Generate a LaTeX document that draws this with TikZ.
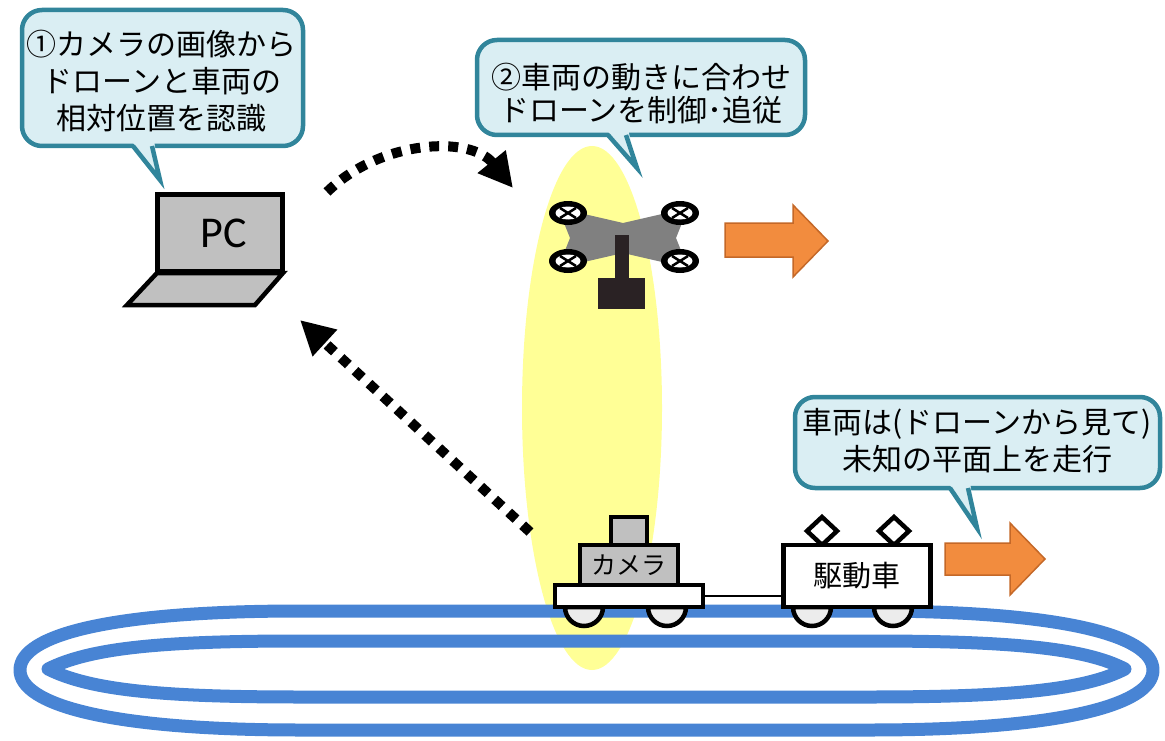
\documentclass[tikz,border=0pt]{standalone}
\usepackage{fontspec}
\newfontfamily\jpfont{Noto Sans CJK JP}
\newfontfamily\pcfont{Carlito}
\usetikzlibrary{arrows.meta}

\definecolor{balloonfill}{RGB}{218,238,243}
\definecolor{balloonline}{RGB}{49,133,155}
\definecolor{orangefill}{RGB}{242,140,62}
\definecolor{orangeline}{RGB}{196,104,40}
\definecolor{trackblue}{RGB}{72,132,212}
\definecolor{zoneyellow}{RGB}{255,255,150}
\definecolor{screengray}{RGB}{192,192,192}
\definecolor{framegray}{RGB}{128,128,128}
\definecolor{gimbal}{RGB}{42,34,36}
\definecolor{wheelgray}{RGB}{236,236,236}

\begin{document}
\begin{tikzpicture}[x=1pt,y=-1pt,
  balloon/.style={draw=balloonline, fill=balloonfill, line width=4.5pt, rounded corners=20pt},
  balloonside/.style={draw=balloonline, line width=4.5pt, line join=miter},
  balloontext/.style={font=\jpfont\fontsize{30}{37}\selectfont, align=center, inner sep=0pt},
  outline/.style={draw=black, line width=4.5pt, line join=miter},
  boxnode/.style={outline, inner sep=0pt, outer sep=0pt},
  dotflow/.style={line width=10pt, dash pattern=on 10pt off 9pt, -{Triangle[length=34pt,width=34pt]}},
  trackline/.style={draw=trackblue, line width=13pt, line join=round},
  movearrow/.style={fill=orangefill, draw=orangeline, line width=1.5pt, line join=miter},
  wheel/.style={outline, fill=wheelgray},
]
\useasboundingbox (0,0) rectangle (1165,741);

% tracking zone around the drone
\fill[zoneyellow] (592,408) ellipse[x radius=70pt, y radius=262pt];

% oval track
\draw[trackline] (20,670) .. controls (20,635) and (110,611) .. (300,611) -- (870,611)
  .. controls (1060,611) and (1153,635) .. (1153,670)
  .. controls (1153,705) and (1060,730) .. (870,730) -- (300,730)
  .. controls (110,730) and (20,705) .. (20,670) -- cycle;
\draw[trackline] (48,669) .. controls (90,648) and (160,641) .. (300,641) -- (870,641)
  .. controls (1010,641) and (1085,648) .. (1125,669)
  .. controls (1085,690) and (1010,697) .. (870,697) -- (300,697)
  .. controls (160,697) and (90,690) .. (48,669) -- cycle;

% laptop
\draw[outline, fill=screengray] (157,273) -- (283,273) -- (255,305) -- (127,305) -- cycle;
\node[boxnode, fill=screengray, minimum width=125pt, minimum height=77pt,
      font=\pcfont\fontsize{44}{44}\selectfont] (pc) at (220,233) {\hspace*{8pt}PC};

% drone
\fill[framegray] (558,208) -- (623,223) -- (688,208) -- (676,238) -- (688,268)
  -- (623,253) -- (558,268) -- (570,238) -- cycle;
\foreach \rx/\ry in {568/213, 680/213, 568/261, 680/261} {
  \fill[black] (\rx,\ry) ellipse[x radius=19pt, y radius=12pt];
  \fill[white] (\rx,\ry) ellipse[x radius=12.5pt, y radius=6.5pt];
  \draw[black, line width=2.5pt] (\rx-8,\ry-5) -- (\rx+8,\ry+5) (\rx-8,\ry+5) -- (\rx+8,\ry-5);
}
\fill[gimbal] (615,235) rectangle (629,280);
\node[fill=gimbal, inner sep=0pt, minimum width=47pt, minimum height=31pt] (drone) at (621,293) {};

% movement arrows
\draw[movearrow] (725,223) -- (793,223) -- (793,205) -- (828,241) -- (793,277) -- (793,257) -- (725,257) -- cycle;
\draw[movearrow] (945,543) -- (1010,543) -- (1010,523) -- (1045,559) -- (1010,595) -- (1010,575) -- (945,575) -- cycle;

% camera cart
\foreach \wx in {584,667} {
  \draw[wheel] (\wx-19,607) arc[start angle=180, end angle=360, radius=19pt] -- cycle;
}
\node[boxnode, fill=screengray, minimum width=36pt, minimum height=28pt] (camtop) at (629,531) {};
\node[boxnode, fill=screengray, minimum width=98pt, minimum height=40pt,
      font=\jpfont\fontsize{25}{25}\selectfont] (cam) at (629,565) {カメラ};
\node[boxnode, fill=white, minimum width=148pt, minimum height=22pt] (camdeck) at (629,596) {};

% drive car
\foreach \wx in {812,893} {
  \draw[wheel] (\wx-19,607) arc[start angle=180, end angle=360, radius=19pt] -- cycle;
}
\foreach \px in {822,894} {
  \draw[outline, fill=white] (\px,517) -- (\px+15,531) -- (\px,545) -- (\px-15,531) -- cycle;
}
\node[boxnode, fill=white, minimum width=147pt, minimum height=62pt,
      font=\jpfont\fontsize{29}{29}\selectfont] (drive) at (857,576) {駆動車};

% coupling between the cars
\draw[black, line width=2.5pt] (camdeck.east) -- (camdeck.east -| drive.west);

% data flow between laptop and drone / camera
\coordinate (pcout) at (327,192);
\coordinate (dronein) at (513,188);
\coordinate (camout) at (530,532);
\coordinate (pcin) at (300,320);
\draw[dotflow] (pcout) .. controls (380,140) and (470,135) .. (dronein);
\draw[dotflow] (camout) -- (pcin);

% speech balloons
\draw[balloon] (22,10) rectangle (303,146);
\fill[balloonfill] (131,140) -- (160,180) -- (154,140) -- cycle;
\draw[balloonside] (133,146) -- (160,180) -- (152,146);
\node[balloontext] (note1) at (162,81) {①カメラの画像から\\ドローンと車両の\\相対位置を認識};

\draw[balloon] (477,40) rectangle (805,135);
\fill[balloonfill] (606,129) -- (637,168) -- (628,129) -- cycle;
\draw[balloonside] (608,135) -- (637,168) -- (626,135);
\node[balloontext, font=\jpfont\fontsize{30}{33}\selectfont] (note2) at (641,94) {②車両の動きに合わせ\\ドローンを制御･追従};

\draw[balloon] (795,397) rectangle (1160,488);
\fill[balloonfill] (948,482) -- (977,528) -- (970,482) -- cycle;
\draw[balloonside] (950,488) -- (977,528) -- (968,488);
\node[balloontext] (note3) at (977,441) {車両は(ドローンから見て)\\未知の平面上を走行};
\end{tikzpicture}
\end{document}
